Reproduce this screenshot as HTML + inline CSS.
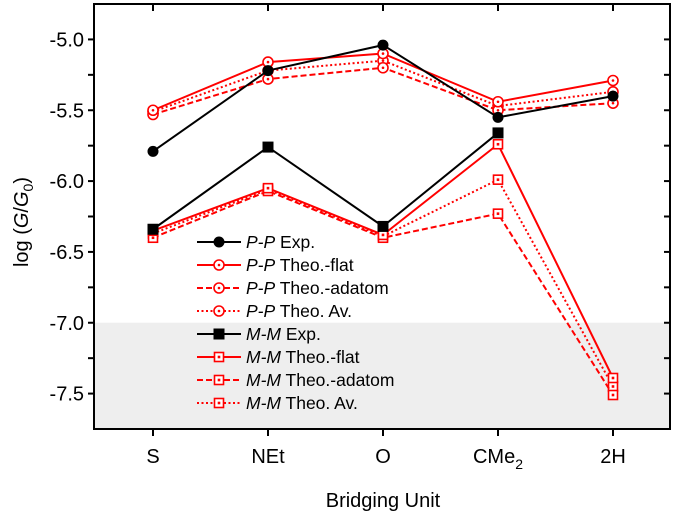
<!DOCTYPE html>
<html><head><meta charset="utf-8"><style>
html,body{margin:0;padding:0;background:#fff;}
svg{display:block;font-family:"Liberation Sans",Arial,sans-serif;}
</style></head><body>
<svg id="chart" width="675" height="519" viewBox="0 0 675 519">
<rect x="0" y="0" width="675" height="519" fill="#fff"/>
<rect id="grayband" fill="#eeeeee"/>
<g id="axes"></g>
<g id="series"></g>
<g id="legend"></g>
<text x="0" y="0" transform="translate(28,222) rotate(-90)" text-anchor="middle" font-size="20">log (<tspan font-style="italic">G</tspan>/<tspan font-style="italic">G</tspan><tspan font-size="14" dy="5">0</tspan><tspan dy="-5">)</tspan></text>
<text x="383" y="507" text-anchor="middle" font-size="20">Bridging Unit</text>
</svg>
<script>
const categories = ["S","NEt","O","CMe2","2H"];
const ppExp    = [-5.79,-5.22,-5.04,-5.55,-5.40];
const ppFlat   = [-5.50,-5.16,-5.10,-5.44,-5.29];
const ppAdatom = [-5.53,-5.28,-5.20,-5.50,-5.45];
const ppAv     = [-5.51,-5.22,-5.15,-5.47,-5.37];
const mmExp    = [-6.34,-5.76,-6.32,-5.66,null];
const mmFlat   = [-6.35,-6.05,-6.38,-5.74,-7.39];
const mmAdatom = [-6.40,-6.07,-6.40,-6.23,-7.51];
const mmAv     = [-6.37,-6.06,-6.39,-5.99,-7.45];
const yTicks = [-5.0,-5.5,-6.0,-6.5,-7.0,-7.5];
const yTickLabels = ["-5.0","-5.5","-6.0","-6.5","-7.0","-7.5"];
const yMin=-7.75, yMax=-4.75;

const L=94,R=670,T=4,B=429;
const NS="http://www.w3.org/2000/svg";
function xs(i){return 153+i*115;}
function ys(v){return T+(yMax-v)/(yMax-yMin)*(B-T);}
function mk(tag,attrs,parent){const e=document.createElementNS(NS,tag);for(const k in attrs)e.setAttribute(k,attrs[k]);parent.appendChild(e);return e;}

const band=document.getElementById('grayband');
band.setAttribute('x',L);band.setAttribute('y',ys(-7.0));band.setAttribute('width',R-L);band.setAttribute('height',B-ys(-7.0));

const ax=document.getElementById('axes');
const frame=mk('rect',{x:L,y:T,width:R-L,height:B-T,fill:'none',stroke:'#000','stroke-width':2},ax);


for(let v=-5.0;v>=-7.5-1e-9;v-=0.25){
  const y=ys(v);
  mk('line',{x1:L-6,x2:L,y1:y,y2:y,stroke:'#000','stroke-width':2},ax);
  mk('line',{x1:R,x2:R-6,y1:y,y2:y,stroke:'#000','stroke-width':2},ax);
}
yTicks.forEach((v,i)=>{
  const t=mk('text',{x:L-10,y:ys(v)+7,'text-anchor':'end','font-size':20},ax);
  t.textContent=yTickLabels[i];
  
  
});
categories.forEach((c,i)=>{
  const x=xs(i);
  mk('line',{x1:x,x2:x,y1:B,y2:B+7,stroke:'#000','stroke-width':2},ax);
  mk('line',{x1:x,x2:x,y1:T,y2:T+7,stroke:'#000','stroke-width':2},ax);
  const t=mk('text',{x:x,y:463,'text-anchor':'middle','font-size':20},ax);
  if(c==="CMe2"){t.textContent="CMe";const s=mk('tspan',{dy:6,'font-size':14},t);s.textContent="2";}
  else t.textContent=c;
  
  
});

const series=[
 {name:'pp-exp',pre:'P-P',txt:' Exp.',d:ppExp,c:'#000',dash:'',m:'circle',fill:true},
 {name:'pp-flat',pre:'P-P',txt:' Theo.-flat',d:ppFlat,c:'#f00',dash:'',m:'circle'},
 {name:'pp-adatom',pre:'P-P',txt:' Theo.-adatom',d:ppAdatom,c:'#f00',dash:'6,3',m:'circle'},
 {name:'pp-av',pre:'P-P',txt:' Theo. Av.',d:ppAv,c:'#f00',dash:'2,2.5',m:'circle'},
 {name:'mm-exp',pre:'M-M',txt:' Exp.',d:mmExp,c:'#000',dash:'',m:'square',fill:true},
 {name:'mm-flat',pre:'M-M',txt:' Theo.-flat',d:mmFlat,c:'#f00',dash:'',m:'square'},
 {name:'mm-adatom',pre:'M-M',txt:' Theo.-adatom',d:mmAdatom,c:'#f00',dash:'6,3',m:'square'},
 {name:'mm-av',pre:'M-M',txt:' Theo. Av.',d:mmAv,c:'#f00',dash:'2,2.5',m:'square'}
];
function marker(s,x,y,g){
  let e;
  if(s.m==='circle'){
    if(s.fill){e=mk('circle',{cx:x,cy:y,r:5.5,fill:s.c},g);}
    else{e=mk('circle',{cx:x,cy:y,r:5,fill:'#fff',stroke:s.c,'stroke-width':1.6},g);mk('circle',{cx:x,cy:y,r:1.3,fill:s.c},g);}
  }else{
    if(s.fill){e=mk('rect',{x:x-5.5,y:y-5.5,width:11,height:11,fill:s.c},g);}
    else{e=mk('rect',{x:x-4.5,y:y-4.5,width:9,height:9,fill:'#fff',stroke:s.c,'stroke-width':1.6},g);mk('rect',{x:x-1.3,y:y-1.3,width:2.6,height:2.6,fill:s.c},g);}
  }
  return e;
}
const sg=document.getElementById('series');
series.slice().reverse().forEach(s=>{
  const g=mk('g',{},sg);
  
  
  const pts=s.d.map((v,i)=>v===null?null:xs(i)+','+ys(v)).filter(p=>p!==null).join(' ');
  mk('polyline',{points:pts,fill:'none',stroke:s.c,'stroke-width':2,'stroke-dasharray':s.dash},g);
  s.d.forEach((v,i)=>{
    if(v===null)return;
    const m=marker(s,xs(i),ys(v),g);
    
    
  });
});
const lg=document.getElementById('legend');
series.forEach((s,i)=>{
  const y=242+i*23;
  const g=mk('g',{},lg);
  
  
  mk('line',{x1:197,x2:241,y1:y,y2:y,stroke:s.c,'stroke-width':2,'stroke-dasharray':s.dash},g);
  marker(s,219,y,g);
  const t=mk('text',{x:246,y:y+6,'font-size':17.5},g);
  const a=mk('tspan',{'font-style':'italic'},t);a.textContent=s.pre;
  const b=mk('tspan',{},t);b.textContent=s.txt;
});
</script>
</body></html>
